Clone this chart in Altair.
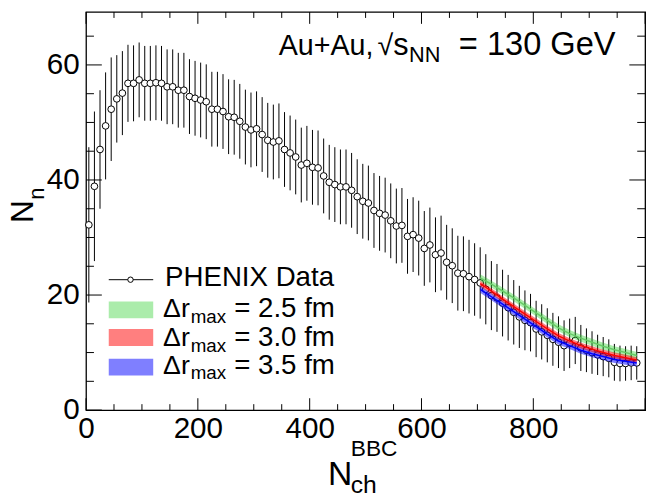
import altair as alt
import pandas as pd

# ---------------- data ----------------
x_vals = [5, 15, 25, 35, 45, 55, 65, 75, 85, 95,
          105, 115, 125, 135, 145, 155, 165, 175, 185, 195,
          205, 215, 225, 235, 245, 255, 265, 275, 285, 295,
          305, 315, 325, 335, 345, 355, 365, 375, 385, 395,
          405, 415, 425, 435, 445, 455, 465, 475, 485, 495,
          505, 515, 525, 535, 545, 555, 565, 575, 585, 595,
          605, 615, 625, 635, 645, 655, 665, 675, 685, 695,
          705, 715, 725, 735, 745, 755, 765, 775, 785, 795,
          805, 815, 825, 835, 845, 855, 865, 875, 885, 895,
          905, 915, 925, 935, 945, 955, 965, 975, 985]
n_vals = [32.2, 38.9, 45.3, 49.4, 52.3, 54.1, 55.1, 56.8, 56.8, 57.4,
          56.8, 56.8, 56.9, 56.8, 56.2, 56.2, 55.6, 55.6, 54.5, 54.2,
          53.9, 53.6, 52.3, 52.3, 51.9, 51.0, 50.9, 50.2, 49.2, 48.7,
          48.9, 47.9, 46.9, 46.6, 46.8, 45.3, 44.7, 44.0, 42.6, 42.9,
          42.2, 42.1, 40.7, 39.6, 39.2, 38.8, 38.8, 38.2, 37.1, 36.3,
          36.0, 34.7, 34.2, 33.9, 32.9, 32.0, 32.1, 30.2, 30.5, 29.9,
          28.1, 28.7, 27.0, 27.3, 25.7, 25.1, 23.8, 23.7, 23.2, 22.7,
          22.1, 21.0, 19.9, 19.5, 18.6, 17.8, 17.0, 16.2, 15.6, 15.2,
          14.1, 13.6, 13.0, 12.3, 11.8, 11.2, 11.6, 12.1, 10.8, 10.4,
          10.0, 9.6, 9.3, 9.0, 8.3, 8.1, 8.1, 8.2, 8.2]
n_errs = [13.5, 13.0, 10.3, 9.3, 9.0, 7.6, 7.3, 6.7, 6.6, 6.5,
          6.5, 6.5, 6.5, 6.5, 6.5, 6.5, 6.5, 6.5, 6.5, 6.5,
          6.5, 6.5, 6.5, 6.5, 6.5, 6.5, 6.5, 6.5, 6.5, 6.5,
          6.5, 6.5, 6.5, 6.5, 6.5, 6.5, 6.5, 6.5, 6.5, 6.5,
          6.5, 6.5, 6.5, 6.5, 6.5, 6.5, 6.5, 6.5, 6.5, 6.5,
          6.5, 6.5, 6.5, 6.5, 6.5, 6.5, 6.5, 6.5, 6.5, 6.5,
          6.5, 6.5, 6.5, 6.5, 6.5, 6.5, 6.5, 6.5, 6.4, 6.3,
          6.2, 6.1, 6.0, 5.9, 5.8, 5.7, 5.6, 5.4, 5.2, 5.0,
          4.9, 4.8, 4.7, 4.6, 4.5, 4.4, 4.3, 4.1, 4.0, 3.8,
          3.7, 3.5, 3.4, 3.3, 3.2, 3.1, 3.0, 3.0, 2.9]

band_x = [705, 725, 745, 765, 785, 805, 825, 845, 865, 885, 905, 925, 945, 965, 985]
green_lo = [22.4, 21.3, 20.1, 18.9, 17.6, 16.3, 15.0, 13.7, 12.7, 11.9, 11.2, 10.5, 9.9, 9.4, 8.9]
green_hi = [23.6, 22.5, 21.3, 20.1, 18.8, 17.5, 16.2, 14.9, 13.9, 13.1, 12.4, 11.7, 11.1, 10.6, 10.1]
red_lo = [21.5, 20.2, 18.8, 17.5, 16.2, 14.9, 13.6, 12.4, 11.5, 10.7, 10.1, 9.5, 9.0, 8.6, 8.2]
red_hi = [22.5, 21.2, 19.8, 18.5, 17.2, 15.9, 14.6, 13.4, 12.5, 11.7, 11.1, 10.5, 10.0, 9.6, 9.2]
blue_lo = [20.4, 19.1, 17.8, 16.5, 15.2, 13.9, 12.6, 11.4, 10.6, 9.8, 9.2, 8.7, 8.2, 7.9, 7.6]
blue_hi = [21.6, 20.3, 19.0, 17.7, 16.4, 15.1, 13.8, 12.6, 11.8, 11.0, 10.4, 9.9, 9.4, 9.1, 8.8]

x_major = [0, 200, 400, 600, 800, 1000]
x_minor = [50, 100, 150, 250, 300, 350, 450, 500, 550, 650, 700, 750, 850, 900, 950]
y_major = [0, 20, 40, 60]
y_minor = [5, 10, 15, 25, 30, 35, 45, 50, 55, 65]
x_labels = [0, 200, 400, 600, 800]
y_labels = [0, 20, 40, 60]

legend_labels = ["2.5 fm", "3.0 fm", "3.5 fm"]
band_colors = ["#22cc22", "#ff0000", "#0000ff"]
band_line_colors = ["#66cc66", "#ff0000", "#0000ff"]
band_opac = [0.38, 0.5, 0.5]

# ---------------- layout ----------------
W, H = 566, 403
FONT = "Liberation Sans"
XS = alt.Scale(domain=[0, 1000], nice=False, zero=False)
YS = alt.Scale(domain=[0, 69.2], nice=False, zero=False)
XAX = alt.Axis(values=x_labels, ticks=False, domain=False, grid=False, labelFont=FONT,
               labelFontSize=30, labelColor="black", labelPadding=4, labelFlush=False,
               labelOverlap=False, title=None)
YAX = alt.Axis(values=y_labels, ticks=False, domain=False, grid=False, labelFont=FONT,
               labelFontSize=30, labelColor="black", labelPadding=7, labelFlush=False,
               labelOverlap=False, title=None)


def X(f):
    return alt.X(f"{f}:Q", scale=XS, axis=XAX)


def Y(f):
    return alt.Y(f"{f}:Q", scale=YS, axis=YAX)


layers = []

# data
df = pd.DataFrame({"x": x_vals, "n": n_vals, "e": n_errs})
df["lo"] = df["n"] - df["e"]
df["hi"] = df["n"] + df["e"]
base = alt.Chart(df)
layers.append(base.mark_rule(color="black", strokeWidth=1).encode(x=X("x"), y=Y("lo"), y2="hi"))
layers.append(base.mark_point(shape="circle", filled=True, fill="white", stroke="black",
                              strokeWidth=1, size=46, opacity=1).encode(x=X("x"), y=Y("n")))

# bands
bands = [(green_lo, green_hi), (blue_lo, blue_hi), (red_lo, red_hi)]
order = [0, 2, 1]
for k, (lo, hi) in zip(order, bands):
    bdf = pd.DataFrame({"x": band_x, "lo": lo, "hi": hi})
    layers.append(alt.Chart(bdf).mark_area(color=band_colors[k], opacity=band_opac[k])
                  .encode(x=X("x"), y=Y("lo"), y2="hi"))
for k, (lo, hi) in zip(order, bands):
    bdf = pd.DataFrame({"x": band_x, "lo": lo, "hi": hi})
    layers.append(alt.Chart(bdf).transform_calculate(mid="(datum.lo + datum.hi) / 2")
                  .mark_line(color=band_line_colors[k], strokeWidth=1.5)
                  .encode(x=X("x"), y=Y("mid")))

# ticks (inward, on all four sides)
for vals, ln in [(x_major, 12), (x_minor, 6)]:
    tdf = alt.Chart(pd.DataFrame({"t": vals}))
    layers.append(tdf.mark_rule(color="black", strokeWidth=1)
                  .encode(x=X("t"), y=alt.value(H), y2=alt.value(H - ln)))
    layers.append(tdf.mark_rule(color="black", strokeWidth=1)
                  .encode(x=X("t"), y=alt.value(0), y2=alt.value(ln)))
for vals, ln in [(y_major, 16), (y_minor, 8)]:
    tdf = alt.Chart(pd.DataFrame({"t": vals}))
    layers.append(tdf.mark_rule(color="black", strokeWidth=1)
                  .encode(y=Y("t"), x=alt.value(0), x2=alt.value(ln)))
    layers.append(tdf.mark_rule(color="black", strokeWidth=1)
                  .encode(y=Y("t"), x=alt.value(W), x2=alt.value(W - ln)))

one = alt.Chart(pd.DataFrame({"a": [0]}))


def txt(s, x, y, size, align="left", angle=0, baseline="alphabetic"):
    kw = dict(text=s, font=FONT, fontSize=size, align=align, baseline=baseline, color="black")
    if angle:
        kw["angle"] = angle
    return one.mark_text(**kw).encode(x=alt.value(x), y=alt.value(y))


# legend
layers.append(one.mark_rule(color="black", strokeWidth=1).encode(
    x=alt.value(23), x2=alt.value(68), y=alt.value(271)))
layers.append(one.mark_point(shape="circle", filled=True, fill="white", stroke="black",
                             strokeWidth=1, size=30, opacity=1).encode(x=alt.value(45), y=alt.value(271)))
layers.append(txt("PHENIX Data", 80, 277, 28))
rect_tops = [293, 321, 351]
base_lines = [309, 338, 366]
for k in range(3):
    layers.append(one.mark_rect(color=band_colors[k], opacity=band_opac[k]).encode(
        x=alt.value(23), x2=alt.value(68), y=alt.value(rect_tops[k]), y2=alt.value(rect_tops[k] + 17)))
    layers.append(txt("\u0394r", 78, base_lines[k], 27))
    layers.append(txt("max", 106, base_lines[k] + 6, 19))
    layers.append(txt("= " + legend_labels[k], 150, base_lines[k], 28))

# top-right label
layers.append(txt("Au+Au,", 195, 44, 29))
layers.append(txt("\u221a", 295, 44, 29))
layers.append(txt("s", 311, 44, 31))
layers.append(txt("NN", 327, 51, 22))
layers.append(txt("= 130 GeV", 536, 44, 33, align="right"))

# axis titles
layers.append(txt("N", 245, 479, 34))
layers.append(txt("BBC", 268, 449, 23))
layers.append(txt("ch", 268, 487, 25))
layers.append(txt("N", -54, 202, 32, align="center", angle=270))
layers.append(txt("n", -43, 184, 22, align="center", angle=270))

chart = alt.layer(*layers).properties(
    width=W, height=H,
    autosize=alt.AutoSizeParams(type="none"),
    padding={"left": 79, "top": 1, "right": 11, "bottom": 90},
    background="white",
).configure_view(stroke="black", strokeWidth=1.3)

chart.save("out.html", embed_options={"renderer": "svg", "actions": False})
